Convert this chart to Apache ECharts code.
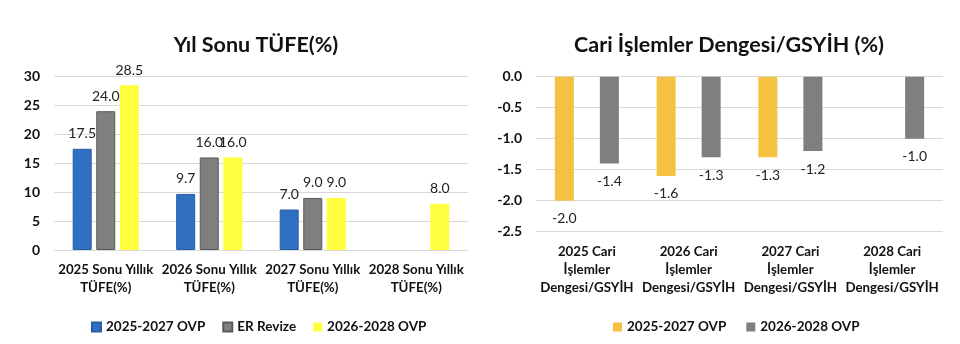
<!DOCTYPE html>
<html>
<head>
<meta charset="utf-8">
<script src="https://cdn.jsdelivr.net/npm/echarts@6/dist/echarts.min.js"></script>
<style>
  html, body { margin: 0; padding: 0; background: #fff; }
  #wrap { position: relative; width: 960px; height: 344px; }
  #cpi { position: absolute; left: 0; top: 0; width: 480px; height: 344px; }
  #cab { position: absolute; left: 480px; top: 0; width: 480px; height: 344px; }
</style>
</head>
<body>
<div id="wrap"><div id="cpi"></div><div id="cab"></div></div>
<script>
// Year-end CPI (%)
const cpiTitle = 'Yıl Sonu TÜFE(%)';
const cpiCategories = ['2025 Sonu Yıllık\nTÜFE(%)', '2026 Sonu Yıllık\nTÜFE(%)', '2027 Sonu Yıllık\nTÜFE(%)', '2028 Sonu Yıllık\nTÜFE(%)'];
const cpiOvp2527 = [17.5, 9.7, 7.0, null];
const cpiErRevize = [24.0, 16.0, 9.0, null];
const cpiOvp2628 = [28.5, 16.0, 9.0, 8.0];
const cpiTicks = { min: 0, max: 30, interval: 5 };

// Current account balance / GDP (%)
const cabTitle = 'Cari İşlemler Dengesi/GSYİH (%)';
const cabCategories = ['2025 Cari\nİşlemler\nDengesi/GSYİH', '2026 Cari\nİşlemler\nDengesi/GSYİH', '2027 Cari\nİşlemler\nDengesi/GSYİH', '2028 Cari\nİşlemler\nDengesi/GSYİH'];
const cabOvp2527 = [-2.0, -1.6, -1.3, null];
const cabOvp2628 = [-1.4, -1.3, -1.2, -1.0];
const cabTicks = { min: -2.5, max: 0, interval: 0.5 };

const FONT = 'Lato, "Open Sans", sans-serif';
const TXT = '#111';

function valueLabel(distance) {
  return {
    show: true,
    position: 'outside',
    distance: distance,
    fontFamily: FONT,
    fontSize: 14,
    color: '#222',
    formatter: p => (p.value == null ? '' : Number(p.value).toFixed(1))
  };
}

function baseAxes(categories, ticks, decimals) {
  return {
    xAxis: {
      type: 'category',
      data: categories,
      axisLine: { show: false, onZero: false },
      axisTick: { show: false },
      axisLabel: {
        interval: 0, margin: 11, fontFamily: FONT, fontWeight: 'bold',
        fontSize: 13.3, color: TXT, lineHeight: 18
      }
    },
    yAxis: {
      type: 'value',
      min: ticks.min, max: ticks.max, interval: ticks.interval,
      axisLine: { show: false },
      axisTick: { show: false },
      splitLine: { lineStyle: { color: '#D9D9D9', width: 1 } },
      axisLabel: {
        margin: 14, fontFamily: FONT, fontWeight: 'bold', fontSize: 14, color: TXT,
        formatter: v => decimals ? v.toFixed(decimals) : String(v)
      }
    }
  };
}

const legendText = { fontFamily: FONT, fontWeight: 'bold', fontSize: 13.5, color: TXT };

const cpiChart = echarts.init(document.getElementById('cpi'), null, { renderer: 'canvas' });
cpiChart.setOption(Object.assign({
  animation: false,
  title: {
    text: cpiTitle, left: 251, top: 29, textAlign: 'center',
    textStyle: { fontFamily: FONT, fontWeight: 'bold', fontSize: 21.5, color: TXT }
  },
  legend: {
    left: 86, top: 315, itemWidth: 9, itemHeight: 9, itemGap: 17,
    icon: 'rect', textStyle: legendText,
    data: ['2025-2027 OVP', 'ER Revize', '2026-2028 OVP']
  },
  grid: { left: 54, right: 12, top: 76.5, bottom: 94, containLabel: false },
  series: [
    { name: '2025-2027 OVP', type: 'bar', data: cpiOvp2527, barWidth: 19, barGap: '24%',
      itemStyle: { color: '#3070C0', borderColor: '#285EA6', borderWidth: 1 }, label: valueLabel(8) },
    { name: 'ER Revize', type: 'bar', data: cpiErRevize, barWidth: 19, barGap: '24%',
      itemStyle: { color: '#7F7F7F', borderColor: '#5A5A5A', borderWidth: 1 }, label: valueLabel(8) },
    { name: '2026-2028 OVP', type: 'bar', data: cpiOvp2628, barWidth: 19, barGap: '24%',
      itemStyle: { color: '#FFFF40' }, label: valueLabel(8) }
  ]
}, baseAxes(cpiCategories, cpiTicks, 0)));

const cabChart = echarts.init(document.getElementById('cab'), null, { renderer: 'canvas' });
cabChart.setOption(Object.assign({
  animation: false,
  title: {
    text: cabTitle, left: 244, top: 29, textAlign: 'center',
    textStyle: { fontFamily: FONT, fontWeight: 'bold', fontSize: 21.5, color: TXT }
  },
  legend: {
    left: 128, top: 315, itemWidth: 9, itemHeight: 9, itemGap: 20,
    icon: 'rect', textStyle: legendText,
    data: ['2025-2027 OVP', '2026-2028 OVP']
  },
  grid: { left: 56, right: 17, top: 76.7, bottom: 112.3, containLabel: false },
  series: [
    { name: '2025-2027 OVP', type: 'bar', data: cabOvp2527, barWidth: 19, barGap: '137%',
      itemStyle: { color: '#F4C141' }, label: valueLabel(11) },
    { name: '2026-2028 OVP', type: 'bar', data: cabOvp2628, barWidth: 19, barGap: '137%',
      itemStyle: { color: '#7F7F7F' }, label: valueLabel(11) }
  ]
}, baseAxes(cabCategories, cabTicks, 1)));
</script>
</body>
</html>
